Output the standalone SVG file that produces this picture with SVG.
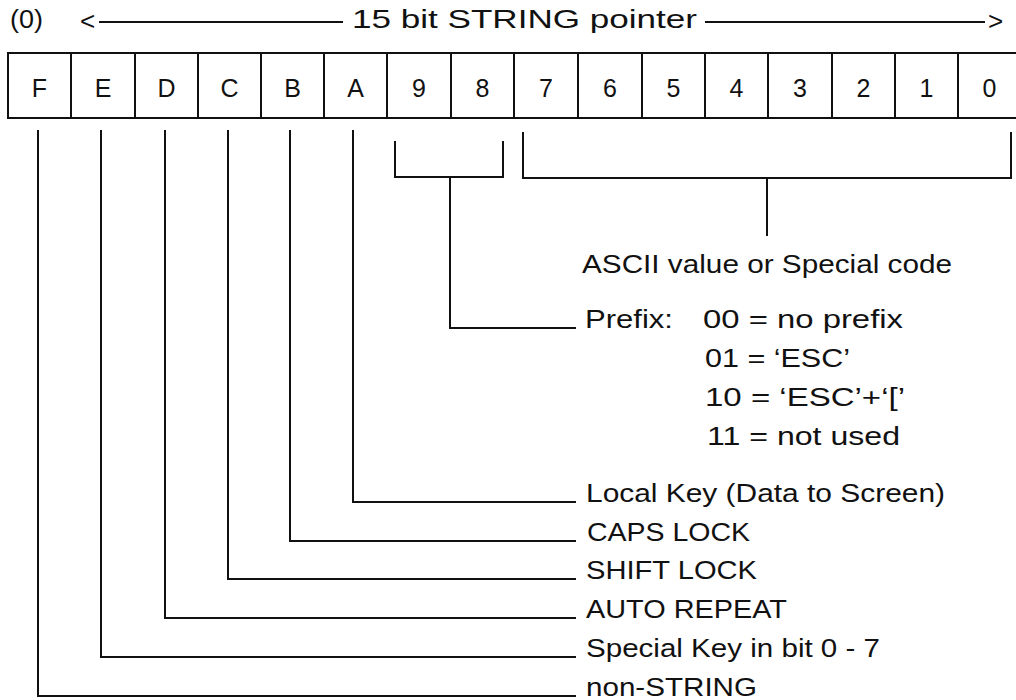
<svg xmlns="http://www.w3.org/2000/svg" width="1016" height="700" viewBox="0 0 1016 700">
<style>
  .t { font-family: "Liberation Sans", Arial, sans-serif; font-size: 26px; fill: #111; }
  .c { font-family: "Liberation Sans", Arial, sans-serif; font-size: 25px; fill: #111; text-anchor: middle; }
  .cell { fill: #fff; stroke: #111; stroke-width: 2; }
  .ln { fill: none; stroke: #111; stroke-width: 2; stroke-linejoin: miter; stroke-linecap: square; }
</style>
<rect width="1016" height="700" fill="#fff"/>

<g id="header">
  <text class="t" x="10" y="28" textLength="33" lengthAdjust="spacingAndGlyphs">(0)</text>
  <text class="t" x="80" y="30">&lt;</text>
  <line class="ln" x1="100" y1="22" x2="342" y2="22"/>
  <text class="t" x="352" y="28" textLength="345" lengthAdjust="spacingAndGlyphs">15 bit STRING pointer</text>
  <line class="ln" x1="706" y1="22" x2="984" y2="22"/>
  <text class="t" x="988" y="30">&gt;</text>
</g>

<g id="register">
  <g id="bitF"><rect class="cell" x="8" y="53" width="63" height="65"/><text class="c" x="39.5" y="97">F</text></g>
  <g id="bitE"><rect class="cell" x="71" y="53" width="64" height="65"/><text class="c" x="103" y="97">E</text></g>
  <g id="bitD"><rect class="cell" x="135" y="53" width="63" height="65"/><text class="c" x="166.5" y="97">D</text></g>
  <g id="bitC"><rect class="cell" x="198" y="53" width="63" height="65"/><text class="c" x="229.5" y="97">C</text></g>
  <g id="bitB"><rect class="cell" x="261" y="53" width="63" height="65"/><text class="c" x="292.5" y="97">B</text></g>
  <g id="bitA"><rect class="cell" x="324" y="53" width="63" height="65"/><text class="c" x="355.5" y="97">A</text></g>
  <g id="bit9"><rect class="cell" x="387" y="53" width="64" height="65"/><text class="c" x="419" y="97">9</text></g>
  <g id="bit8"><rect class="cell" x="451" y="53" width="63" height="65"/><text class="c" x="482.5" y="97">8</text></g>
  <g id="bit7"><rect class="cell" x="514" y="53" width="64" height="65"/><text class="c" x="546" y="97">7</text></g>
  <g id="bit6"><rect class="cell" x="578" y="53" width="64" height="65"/><text class="c" x="610" y="97">6</text></g>
  <g id="bit5"><rect class="cell" x="642" y="53" width="63" height="65"/><text class="c" x="673.5" y="97">5</text></g>
  <g id="bit4"><rect class="cell" x="705" y="53" width="63" height="65"/><text class="c" x="736.5" y="97">4</text></g>
  <g id="bit3"><rect class="cell" x="768" y="53" width="64" height="65"/><text class="c" x="800" y="97">3</text></g>
  <g id="bit2"><rect class="cell" x="832" y="53" width="63" height="65"/><text class="c" x="863.5" y="97">2</text></g>
  <g id="bit1"><rect class="cell" x="895" y="53" width="63" height="65"/><text class="c" x="926.5" y="97">1</text></g>
  <g id="bit0"><rect class="cell" x="958" y="53" width="63" height="65"/><text class="c" x="989.5" y="97">0</text></g>
</g>

<g id="connectors">
  <!-- bits 7..0 bracket -->
  <polyline class="ln" points="523,133 523,178 1011,178 1011,133"/>
  <line class="ln" x1="767" y1="178" x2="767" y2="235"/>
  <!-- bits 9..8 bracket -->
  <polyline class="ln" points="395,142 395,177 503,177 503,142"/>
  <polyline class="ln" points="450,177 450,328 575,328"/>
  <!-- single bits -->
  <polyline class="ln" points="353,131 353,502 575,502"/>
  <polyline class="ln" points="290,131 290,541 575,541"/>
  <polyline class="ln" points="228,131 228,579 575,579"/>
  <polyline class="ln" points="165,131 165,618 575,618"/>
  <polyline class="ln" points="101,131 101,657 575,657"/>
  <polyline class="ln" points="38,131 38,696 575,696"/>
</g>

<g id="label-ascii"><text class="t" x="582" y="273" textLength="370" lengthAdjust="spacingAndGlyphs">ASCII value or Special code</text></g>
<g id="label-prefix">
  <text class="t" x="585" y="328" textLength="88" lengthAdjust="spacingAndGlyphs">Prefix:</text>
  <text class="t" x="703" y="328" textLength="200" lengthAdjust="spacingAndGlyphs">00 = no prefix</text>
  <text class="t" x="705" y="367" textLength="145" lengthAdjust="spacingAndGlyphs">01 = ‘ESC’</text>
  <text class="t" x="705" y="406" textLength="200" lengthAdjust="spacingAndGlyphs">10 = ‘ESC’+‘[’</text>
  <text class="t" x="707" y="445" textLength="193" lengthAdjust="spacingAndGlyphs">11 = not used</text>
</g>
<g id="label-A"><text class="t" x="586" y="502" textLength="359" lengthAdjust="spacingAndGlyphs">Local Key (Data to Screen)</text></g>
<g id="label-B"><text class="t" x="587" y="541" textLength="163" lengthAdjust="spacingAndGlyphs">CAPS LOCK</text></g>
<g id="label-C"><text class="t" x="586" y="579" textLength="171" lengthAdjust="spacingAndGlyphs">SHIFT LOCK</text></g>
<g id="label-D"><text class="t" x="586" y="618" textLength="201" lengthAdjust="spacingAndGlyphs">AUTO REPEAT</text></g>
<g id="label-E"><text class="t" x="586" y="657" textLength="294" lengthAdjust="spacingAndGlyphs">Special Key in bit 0 - 7</text></g>
<g id="label-F"><text class="t" x="586" y="696" textLength="171" lengthAdjust="spacingAndGlyphs">non-STRING</text></g>
</svg>
